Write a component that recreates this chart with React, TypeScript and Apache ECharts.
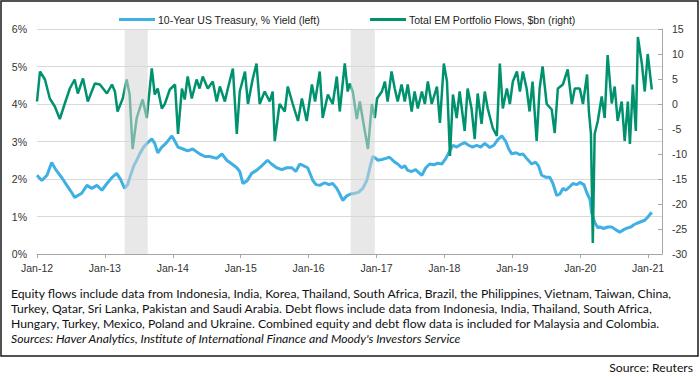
import React, { useEffect, useRef } from "react";
import * as echarts from "echarts";

// 10-Year US Treasury yield (%)
const yieldDates = [
  "2012-01-01","2012-01-27","2012-02-24","2012-03-20","2012-04-11","2012-05-13","2012-06-10","2012-07-06","2012-07-22","2012-08-29",
  "2012-09-26","2012-10-22","2012-11-19","2012-12-16","2013-01-12","2013-02-08","2013-03-05","2013-03-26","2013-04-17","2013-05-03",
  "2013-05-19","2013-06-05","2013-06-21","2013-07-07","2013-07-28","2013-08-19","2013-09-10","2013-09-26","2013-10-12","2013-11-03",
  "2013-11-25","2013-12-11","2013-12-27","2014-01-13","2014-01-29","2014-02-25","2014-03-22","2014-04-18","2014-05-25","2014-06-22",
  "2014-07-18","2014-08-25","2014-09-22","2014-10-18","2014-11-15","2014-12-11","2014-12-27","2015-01-13","2015-02-04","2015-03-01",
  "2015-03-27","2015-04-24","2015-05-25","2015-06-16","2015-07-13","2015-08-10","2015-09-06","2015-10-03","2015-10-24","2015-11-15",
  "2015-12-06","2015-12-27","2016-01-24","2016-02-10","2016-03-01","2016-03-28","2016-04-19","2016-05-10","2016-06-01","2016-06-17",
  "2016-07-03","2016-07-25","2016-08-15","2016-09-07","2016-09-28","2016-10-19","2016-11-10","2016-11-26","2016-12-12","2016-12-28",
  "2017-01-09","2017-01-30","2017-02-21","2017-03-12","2017-04-09","2017-04-25","2017-05-16","2017-06-02","2017-06-18","2017-07-09",
  "2017-07-30","2017-08-21","2017-09-02","2017-09-23","2017-10-14","2017-11-05","2017-11-27","2017-12-18","2018-01-09","2018-01-31",
  "2018-02-16","2018-03-08","2018-03-29","2018-04-20","2018-05-11","2018-06-02","2018-06-23","2018-07-15","2018-08-06","2018-09-02",
  "2018-09-24","2018-10-15","2018-11-06","2018-11-27","2018-12-13","2018-12-29","2019-01-20","2019-02-11","2019-02-27","2019-03-19",
  "2019-04-15","2019-05-06","2019-05-22","2019-06-08","2019-06-29","2019-07-21","2019-08-06","2019-08-28","2019-09-14","2019-09-30",
  "2019-10-16","2019-11-07","2019-11-23","2019-12-14","2019-12-30","2020-01-21","2020-02-07","2020-02-23","2020-03-03","2020-03-19",
  "2020-04-05","2020-04-16","2020-05-07","2020-05-28","2020-06-19","2020-07-10","2020-08-01","2020-08-23","2020-09-09","2020-09-30",
  "2020-10-16","2020-11-02","2020-11-23","2020-12-14","2020-12-30","2021-01-10","2021-01-21"
];
const yieldValues = [
  2.10,1.96,2.10,2.44,2.25,2.04,1.83,1.64,1.51,1.62,
  1.83,1.75,1.83,1.70,1.88,2.04,2.15,1.99,1.75,1.85,
  2.10,2.35,2.50,2.67,2.85,2.97,3.07,2.95,2.70,2.85,
  2.95,3.05,3.15,3.00,2.85,2.80,2.75,2.80,2.67,2.60,
  2.60,2.55,2.67,2.50,2.40,2.30,2.20,1.88,1.95,2.15,
  2.23,2.35,2.50,2.40,2.30,2.25,2.30,2.30,2.20,2.40,
  2.35,2.30,1.96,1.85,1.83,1.90,1.85,1.88,1.75,1.60,
  1.43,1.55,1.60,1.62,1.65,1.75,1.96,2.30,2.60,2.55,
  2.50,2.52,2.55,2.58,2.45,2.40,2.30,2.35,2.23,2.20,
  2.25,2.15,2.10,2.30,2.40,2.38,2.42,2.40,2.55,2.76,
  2.90,2.85,2.92,2.97,2.90,2.85,2.90,2.85,2.95,2.84,
  2.90,3.05,3.15,3.00,2.80,2.67,2.70,2.65,2.67,2.55,
  2.40,2.45,2.35,2.10,2.05,2.05,1.90,1.56,1.60,1.75,
  1.70,1.80,1.88,1.85,1.91,1.85,1.62,1.45,1.09,0.85,
  0.70,0.72,0.68,0.72,0.72,0.65,0.58,0.65,0.69,0.72,
  0.78,0.82,0.86,0.90,0.98,1.05,1.11
];

// Total EM portfolio flows ($bn)
const flowDates = [
  "2012-01-01","2012-01-17","2012-02-13","2012-03-10","2012-04-06","2012-05-03","2012-05-29","2012-06-26","2012-07-22","2012-08-08",
  "2012-09-05","2012-10-01","2012-11-08","2012-12-05","2013-01-12","2013-02-08","2013-02-24","2013-03-10","2013-04-07","2013-04-28",
  "2013-05-14","2013-05-30","2013-06-21","2013-07-07","2013-07-23","2013-08-14","2013-09-10","2013-09-26","2013-10-12","2013-11-03",
  "2013-11-19","2013-12-16","2014-01-13","2014-01-29","2014-02-19","2014-03-06","2014-03-22","2014-04-13","2014-05-09","2014-05-25",
  "2014-06-11","2014-07-08","2014-08-04","2014-08-25","2014-09-11","2014-10-08","2014-10-24","2014-11-20","2014-12-11","2014-12-27",
  "2015-01-24","2015-02-09","2015-03-06","2015-03-27","2015-04-13","2015-05-10","2015-06-06","2015-06-22","2015-07-03","2015-07-29",
  "2015-08-26","2015-09-11","2015-10-08","2015-11-05","2015-11-26","2015-12-22","2016-01-19","2016-02-05","2016-03-01","2016-03-17",
  "2016-04-14","2016-05-10","2016-06-01","2016-06-17","2016-07-14","2016-07-30","2016-08-10","2016-08-26","2016-09-17","2016-10-03",
  "2016-10-30","2016-11-16","2016-12-07","2016-12-23","2017-01-04","2017-01-30","2017-02-15","2017-03-02","2017-03-23","2017-04-09",
  "2017-04-25","2017-05-16","2017-06-02","2017-06-18","2017-07-09","2017-07-25","2017-08-11","2017-09-02","2017-09-18","2017-10-04",
  "2017-10-25","2017-11-22","2017-12-08","2017-12-29","2018-01-15","2018-01-31","2018-02-16","2018-03-08","2018-03-24","2018-04-20",
  "2018-05-06","2018-05-27","2018-06-13","2018-06-29","2018-07-20","2018-08-06","2018-08-22","2018-09-18","2018-10-10","2018-10-26",
  "2018-11-11","2018-12-03","2018-12-19","2019-01-04","2019-01-26","2019-02-11","2019-02-27","2019-03-19","2019-04-04","2019-04-20",
  "2019-05-12","2019-05-28","2019-06-13","2019-07-05","2019-08-01","2019-08-17","2019-09-03","2019-09-30","2019-10-26","2019-11-17",
  "2019-12-03","2019-12-30","2020-01-16","2020-02-07","2020-02-17","2020-02-28","2020-03-09","2020-03-19","2020-04-05","2020-04-26",
  "2020-05-12","2020-05-28","2020-06-19","2020-07-05","2020-07-21","2020-08-12","2020-08-28","2020-09-14","2020-09-25","2020-10-11",
  "2020-10-27","2020-11-07","2020-11-29","2020-12-14","2020-12-30","2021-01-21"
];
const flowValues = [
  0.5,6.5,4.9,1.1,-0.5,-3.0,0.0,3.1,4.9,2.1,
  5.1,0.5,4.1,3.9,2.1,3.9,2.5,-1.5,1.1,4.9,
  1.9,-9.0,-2.8,-0.9,0.9,-2.8,7.1,1.9,3.1,-0.9,
  0.0,2.9,3.9,-6.0,3.1,0.9,5.5,1.1,4.9,3.1,
  5.5,3.1,4.5,0.5,3.5,0.5,3.1,7.1,-6.0,2.5,
  6.5,0.0,4.9,8.1,0.0,2.5,0.5,2.5,-7.4,0.0,
  -1.5,3.5,0.0,-3.4,1.1,-3.4,3.9,0.5,6.5,-2.8,
  1.9,0.0,5.5,-1.5,8.1,2.5,4.1,2.5,-3.0,0.5,
  -5.4,-9.0,0.0,-2.8,1.1,2.5,4.5,0.5,6.5,3.1,
  0.5,3.9,0.5,3.9,-1.5,2.5,-0.9,2.5,0.0,4.5,
  0.0,3.5,-3.8,8.1,4.5,-10.4,1.9,-2.8,2.5,-5.4,
  3.1,-0.9,-7.0,2.1,-4.0,2.5,-0.9,-4.8,-6.4,8.1,
  -0.9,3.1,0.0,4.5,6.5,2.5,6.5,3.1,-1.5,4.5,
  -7.4,3.1,7.5,0.0,-1.1,-5.8,3.1,3.9,6.9,0.0,
  3.1,3.1,0.0,5.9,-1.5,-6.0,-27.8,-6.0,-3.4,1.5,
  -2.8,9.8,0.1,3.5,-3.4,0.5,-7.4,0.5,-8.0,3.9,
  -5.4,13.4,7.9,2.5,10.0,2.9
];

const shadedPeriods = [
  ["2013-04-17", "2013-08-19"],
  ["2016-08-15", "2016-12-23"]
];
const tickYears = [2012, 2013, 2014, 2015, 2016, 2017, 2018, 2019, 2020, 2021];
const seriesNames = ["10-Year US Treasury, % Yield (left)", "Total EM Portfolio Flows, $bn (right)"];
const footnoteLines = [
  "Equity flows include data from Indonesia, India, Korea, Thailand, South Africa, Brazil, the Philippines, Vietnam, Taiwan, China,",
  "Turkey, Qatar, Sri Lanka, Pakistan and Saudi Arabia. Debt flows include data from Indonesia, India, Thailand, South Africa,",
  "Hungary, Turkey, Mexico, Poland and Ukraine. Combined equity and debt flow data is included for Malaysia and Colombia."
];
const sourcesLine = "Sources: Haver Analytics, Institute of International Finance and Moody's Investors Service";
const creditLine = "Source: Reuters";

function toYear(s: string): number {
  const [y, m, d] = s.split("-").map(Number);
  const start = Date.UTC(y, 0, 1);
  const end = Date.UTC(y + 1, 0, 1);
  return y + (Date.UTC(y, m - 1, d) - start) / (end - start);
}

const AXIS_FONT = "'Liberation Sans', Arial, sans-serif";
const NOTE_FONT = "Lato, 'Open Sans', sans-serif";

export default function App() {
  const ref = useRef<HTMLDivElement>(null);
  useEffect(() => {
    if (!ref.current) return;
    const chart = echarts.init(ref.current, undefined, { renderer: "svg" });
    const yieldData = yieldDates.map((d, i) => [toYear(d), yieldValues[i]]);
    const flowData = flowDates.map((d, i) => [toYear(d), flowValues[i]]);
    const noteStyle = { font: `12.2px ${NOTE_FONT}`, fill: "#111" };
    chart.setOption({
      animation: false,
      backgroundColor: "#fff",
      grid: { left: 37, right: 38, top: 29, bottom: 123 },
      legend: {
        left: 114,
        top: 9,
        itemWidth: 36,
        itemHeight: 3,
        itemGap: 50,
        icon: "rect",
        textStyle: { fontFamily: AXIS_FONT, fontSize: 10.5, color: "#222", padding: [0, 0, 0, -2] },
        data: seriesNames
      },
      xAxis: {
        type: "value",
        min: 2012,
        max: 2021.205,
        interval: 1,
        axisLine: { show: true, lineStyle: { color: "#a6a6a6", width: 1 } },
        axisTick: { show: true, length: 4, lineStyle: { color: "#a6a6a6" }, customValues: tickYears },
        axisLabel: {
          customValues: tickYears,
          margin: 8,
          fontFamily: AXIS_FONT,
          fontSize: 10.5,
          color: "#333",
          formatter: (v: number) => (Number.isInteger(v) ? "Jan-" + String(v).slice(2) : "")
        },
        splitLine: { show: false }
      },
      yAxis: [
        {
          type: "value",
          min: 0,
          max: 6,
          interval: 1,
          axisLine: { show: false },
          axisTick: { show: false },
          axisLabel: { formatter: "{value}%", margin: 10, fontFamily: AXIS_FONT, fontSize: 10.5, color: "#333" },
          splitLine: { show: true, lineStyle: { color: "#d9d9d9", width: 1 } }
        },
        {
          type: "value",
          min: -30,
          max: 15,
          interval: 5,
          position: "right",
          axisLine: { show: true, lineStyle: { color: "#a6a6a6", width: 1 } },
          axisTick: { show: true, inside: true, length: 4, lineStyle: { color: "#a6a6a6" } },
          axisLabel: { margin: 10, fontFamily: AXIS_FONT, fontSize: 10.5, color: "#333" },
          splitLine: { show: false }
        }
      ],
      series: [
        {
          name: seriesNames[0],
          type: "line",
          yAxisIndex: 0,
          data: yieldData,
          showSymbol: false,
          symbol: "none",
          color: "#3fb0e3",
          lineStyle: { color: "#3fb0e3", width: 3 },
          z: 2
        },
        {
          name: seriesNames[1],
          type: "line",
          yAxisIndex: 1,
          data: flowData,
          showSymbol: false,
          symbol: "none",
          color: "#00926e",
          lineStyle: { color: "#00926e", width: 2.5 },
          z: 3
        },
        {
          name: "shading",
          type: "line",
          yAxisIndex: 0,
          data: [],
          z: 10,
          markArea: {
            silent: true,
            z: 10,
            itemStyle: { color: "rgba(214,214,214,0.55)" },
            data: shadedPeriods.map(([a, b]) => [{ xAxis: toYear(a) }, { xAxis: toYear(b) }])
          }
        }
      ],
      graphic: [
        {
          type: "rect",
          shape: { x: 1, y: 1, width: 697, height: 355 },
          style: { fill: "none", stroke: "#1a1a1a", lineWidth: 1.5 },
          silent: true
        },
        ...footnoteLines.map((t, i) => ({
          type: "text",
          x: 11,
          y: 293 + i * 15,
          style: { ...noteStyle, text: t, verticalAlign: "middle" }
        })),
        {
          type: "text",
          x: 11,
          y: 338,
          style: { ...noteStyle, font: `italic 12.2px ${NOTE_FONT}`, text: sourcesLine, verticalAlign: "middle" }
        },
        {
          type: "text",
          x: 693,
          y: 367,
          style: { ...noteStyle, text: creditLine, align: "right", verticalAlign: "middle" }
        }
      ]
    });
    return () => chart.dispose();
  }, []);
  return (
    <div
      ref={ref}
      style={{ position: "fixed", left: 0, top: 0, width: 700, height: 377, background: "#fff" }}
    />
  );
}
